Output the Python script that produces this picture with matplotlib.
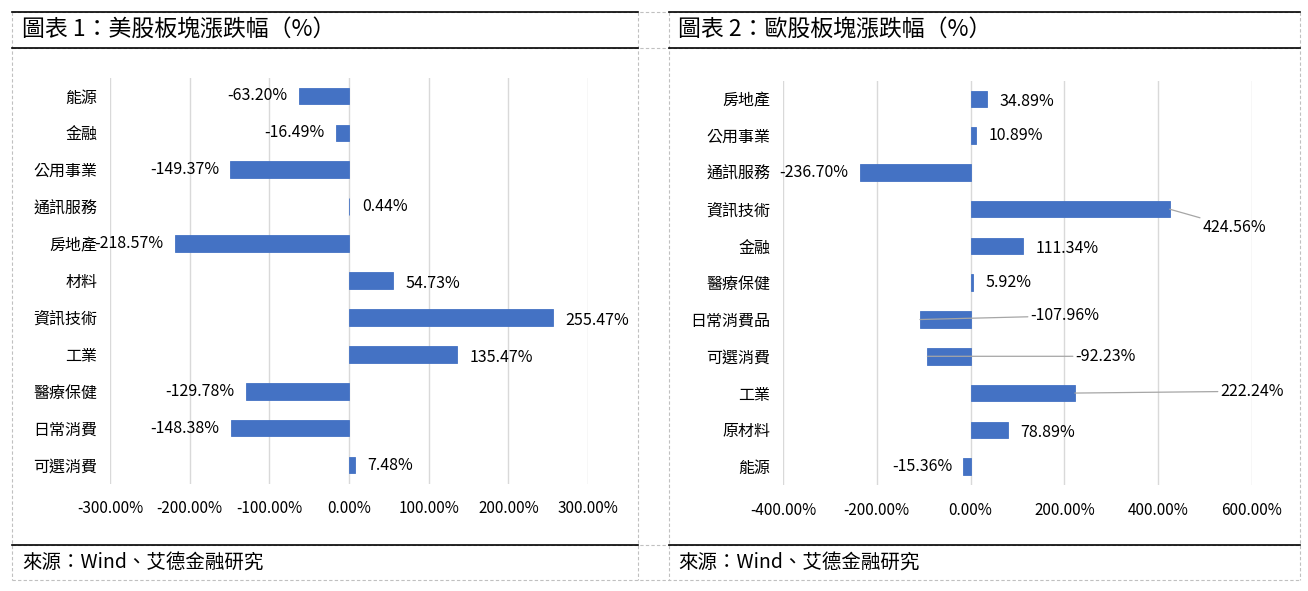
import matplotlib
matplotlib.use('Agg')
import matplotlib.pyplot as plt
from matplotlib.lines import Line2D
from matplotlib.ticker import FuncFormatter

W, H = 1308, 591
CJK = ['Noto Sans CJK TC', 'DejaVu Sans']
NUM = ['Noto Sans CJK TC', 'DejaVu Sans']
BAR = '#4472C4'

# data, top to bottom as in the picture
us_sectors = ['能源', '金融', '公用事業', '通訊服務', '房地產', '材料',
              '資訊技術', '工業', '醫療保健', '日常消費', '可選消費']
us_change = [-63.20, -16.49, -149.37, 0.44, -218.57, 54.73,
             255.47, 135.47, -129.78, -148.38, 7.48]

eu_sectors = ['房地產', '公用事業', '通訊服務', '資訊技術', '金融', '醫療保健',
              '日常消費品', '可選消費', '工業', '原材料', '能源']
eu_change = [34.89, 10.89, -236.70, 424.56, 111.34, 5.92,
             -107.96, -92.23, 222.24, 78.89, -15.36]

us_ticks = [-300, -200, -100, 0, 100, 200, 300]
eu_ticks = [-400, -200, 0, 200, 400, 600]

# labels that Excel pushed out with leader lines: index -> (label x in data units, y shift)
eu_leaders = {3: (495, 0.5), 6: (128, -0.1), 7: (224, 0.0), 8: (533, -0.05)}


def px_axes(fig, x0, y0, x1, y1):
    return fig.add_axes([x0 / W, 1 - y1 / H, (x1 - x0) / W, (y1 - y0) / H])


def fig_line(fig, x0, y0, x1, y1, **kw):
    fig.add_artist(Line2D([x0 / W, x1 / W], [1 - y0 / H, 1 - y1 / H],
                          transform=fig.transFigure, **kw))


def bar_panel(ax, sectors, values, ticks, leaders=None):
    n = len(sectors)
    ys = list(range(n))
    ax.barh(ys, values, height=0.45, color=BAR, edgecolor=BAR, lw=0.6, zorder=3)
    ax.set_ylim(n - 0.5, -0.5)
    ax.set_xlim(ticks[0], ticks[-1])
    ax.set_xticks(ticks)
    ax.xaxis.set_major_formatter(FuncFormatter(lambda v, p: '%.2f%%' % v))
    ax.set_yticks(ys)
    ax.set_yticklabels(sectors, family=CJK, fontsize=11.5)
    for lab in ax.get_xticklabels():
        lab.set_family(NUM)
        lab.set_fontsize(11)
    ax.tick_params(axis='x', length=0, pad=12)
    ax.tick_params(axis='y', length=0, pad=9)
    ax.grid(axis='x', color='#d9d9d9', lw=1, zorder=0)
    for s in ax.spines.values():
        s.set_visible(False)
    leaders = leaders or {}
    for i, v in enumerate(values):
        txt = '%.2f%%' % v
        if i in leaders:
            lx, dy = leaders[i]
            ax.annotate(txt, xy=(v, i), xytext=(lx, i + dy), ha='left', va='center',
                        family=NUM, fontsize=11.5,
                        arrowprops=dict(arrowstyle='-', color='#a6a6a6', lw=0.9,
                                        shrinkA=0, shrinkB=0))
        elif v >= 0:
            ax.annotate(txt, xy=(v, i), xytext=(9, -2 if v > 20 else 0),
                        textcoords='offset points', ha='left', va='center',
                        family=NUM, fontsize=11.5)
        else:
            ax.annotate(txt, xy=(v, i), xytext=(-8, 0), textcoords='offset points',
                        ha='right', va='center', family=NUM, fontsize=11.5)


fig = plt.figure(figsize=(W / 100, H / 100), dpi=100)

ax1 = px_axes(fig, 110, 77.5, 588, 483.5)
bar_panel(ax1, us_sectors, us_change, us_ticks)

ax2 = px_axes(fig, 783, 80.5, 1252, 485)
bar_panel(ax2, eu_sectors, eu_change, eu_ticks, eu_leaders)

# table-like frame: dashed cell borders, solid rules
dash = dict(color='#c0c0c0', lw=0.8, ls=(0, (3, 2)))
for yy in (12, 48, 545, 580):
    fig_line(fig, 12, yy, 1300, yy, **dash)
for xx in (12, 638, 669, 1300):
    fig_line(fig, xx, 12, xx, 580, **dash)
for x0, x1 in ((12, 638), (669, 1300)):
    for yy in (12, 48, 545):
        fig_line(fig, x0, yy, x1, yy, color='black', lw=1.2)

fig.text(22 / W, 1 - 30 / H, '圖表 1：美股板塊漲跌幅（%）', family=CJK, fontsize=16.5,
         va='center', ha='left', fontweight='light')
fig.text(678 / W, 1 - 30 / H, '圖表 2：歐股板塊漲跌幅（%）', family=CJK, fontsize=16.5,
         va='center', ha='left', fontweight='light')
fig.text(22 / W, 1 - 563 / H, '來源：Wind、艾德金融研究', family=CJK, fontsize=14,
         va='center', ha='left', fontweight='light')
fig.text(678 / W, 1 - 563 / H, '來源：Wind、艾德金融研究', family=CJK, fontsize=14,
         va='center', ha='left', fontweight='light')

fig.savefig('out.png', dpi=100, facecolor='white')
